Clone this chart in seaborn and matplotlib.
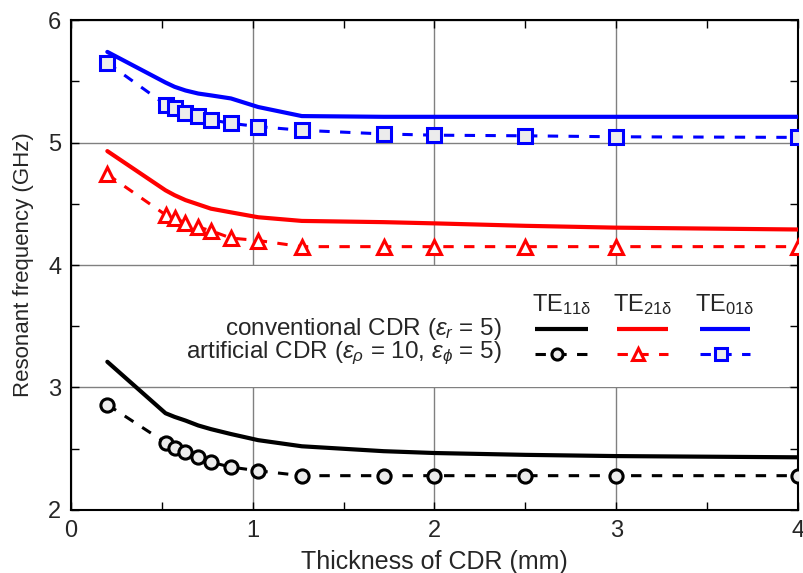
## Resonant frequency of conventional vs artificial CDR

import matplotlib
matplotlib.use("Agg")
import matplotlib.pyplot as plt
from matplotlib.patches import Rectangle
from matplotlib.ticker import MultipleLocator
import seaborn as sns
from pandas import DataFrame

#----------------------------------------------------
# DATA
#----------------------------------------------------

thickness = [0.2, 0.52, 0.57, 0.63, 0.7, 0.77, 0.88, 1.03, 1.27, 1.72, 2.0, 2.5, 3.0, 4.0]

te11_conv = [3.21, 2.79, 2.76, 2.73, 2.69, 2.66, 2.62, 2.57, 2.52, 2.48, 2.465, 2.45, 2.44, 2.43]
te21_conv = [4.93, 4.61, 4.57, 4.53, 4.495, 4.46, 4.43, 4.39, 4.36, 4.35, 4.34, 4.32, 4.305, 4.29]
te01_conv = [5.74, 5.49, 5.455, 5.425, 5.40, 5.385, 5.36, 5.29, 5.216, 5.21, 5.21, 5.21, 5.21, 5.21]

te11_art = [2.86, 2.55, 2.51, 2.47, 2.43, 2.39, 2.35, 2.32, 2.28, 2.28, 2.28, 2.28, 2.28, 2.28]
te21_art = [4.74, 4.41, 4.38, 4.345, 4.31, 4.28, 4.22, 4.20, 4.15, 4.15, 4.15, 4.15, 4.15, 4.15]
te01_art = [5.65, 5.31, 5.28, 5.245, 5.215, 5.185, 5.157, 5.13, 5.10, 5.07, 5.06, 5.055, 5.047, 5.042]

mode_labels = [r"TE$_{\mathrm{11δ}}$", r"TE$_{\mathrm{21δ}}$", r"TE$_{\mathrm{01δ}}$"]
mode_colors = ["black", "#ff0000", "#0000ff"]
mode_markers = ["o", "^", "s"]
row_labels = [r"conventional CDR ($\varepsilon_r$ = 5)",
              r"artificial CDR ($\varepsilon_\rho$ = 10, $\varepsilon_\phi$ = 5)"]

#----------------------------------------------------
# STYLE
#----------------------------------------------------

sns.set_style("ticks")
plt.rcParams['font.family'] = ['Liberation Sans', 'DejaVu Sans']
plt.rcParams['mathtext.fontset'] = 'custom'
plt.rcParams['mathtext.rm'] = 'Liberation Sans'
plt.rcParams['mathtext.it'] = 'Liberation Sans:italic'
plt.rcParams['mathtext.bf'] = 'Liberation Sans:bold'

SOLID_LW = 3.0
DASH_LW = 2.2
DASH = (0, (3.4, 3.4))

#----------------------------------------------------
# MAIN
#----------------------------------------------------

def main():
    fig = plt.figure(figsize=(8.04, 5.73), dpi=100)
    ax = fig.add_axes([0.0883, 0.11, 0.9042, 0.855])

    conv = [te11_conv, te21_conv, te01_conv]
    art = [te11_art, te21_art, te01_art]

    for i in range(3):
        df = DataFrame({"x": thickness, "conv": conv[i], "art": art[i]})
        sns.lineplot(data=df, x="x", y="conv", ax=ax, color=mode_colors[i],
                     lw=SOLID_LW, zorder=3)
        face = "white" if mode_markers[i] == "^" else "#ececec"
        sns.lineplot(data=df, x="x", y="art", ax=ax, color=mode_colors[i],
                     lw=DASH_LW, linestyle=DASH, marker=mode_markers[i],
                     markersize=9.5 if mode_markers[i] != "^" else 10.5,
                     markerfacecolor=face, markeredgecolor=mode_colors[i],
                     markeredgewidth=2.2, zorder=3)

    ax.set_xlim(0, 4)
    ax.set_ylim(2, 6)
    ax.xaxis.set_major_locator(MultipleLocator(1))
    ax.yaxis.set_major_locator(MultipleLocator(1))
    ax.xaxis.set_minor_locator(MultipleLocator(0.5))
    ax.yaxis.set_minor_locator(MultipleLocator(0.5))
    ax.tick_params(which="both", direction="in", top=True, right=True,
                   length=6, width=1, color="black")
    ax.tick_params(which="major", labelsize=17, pad=7)
    ax.set_axisbelow(True)
    ax.grid(which="major", color="#808080", lw=1)
    for sp in ax.spines.values():
        sp.set_color("black")
        sp.set_linewidth(1.5)

    ax.set_xlabel("Thickness of CDR (mm)", fontsize=18, labelpad=6)
    ax.set_ylabel("Resonant frequency (GHz)", fontsize=16, labelpad=10)

    #white box behind the legend
    ax.add_patch(Rectangle((0.6, 3.008), 3.35, 0.984, facecolor="white",
                           edgecolor="none", zorder=1))

    #legend made by hand: row labels, column headers, samples
    row_y = [0.369, 0.319]
    for j in range(2):
        ax.text(0.593, row_y[j], row_labels[j], transform=ax.transAxes,
                ha="right", va="center", fontsize=17.5)
    col_x = [(0.638, 0.711), (0.751, 0.821), (0.865, 0.934)]
    for i in range(3):
        x0, x1 = col_x[i]
        ax.text((x0 + x1) / 2, 0.42, mode_labels[i], transform=ax.transAxes,
                ha="center", va="center", fontsize=17)
        ax.plot([x0, x1], [row_y[0], row_y[0]], transform=ax.transAxes,
                color=mode_colors[i], lw=SOLID_LW, solid_capstyle="butt", zorder=4)
        ax.plot([x0, x1], [row_y[1], row_y[1]], transform=ax.transAxes,
                color=mode_colors[i], lw=DASH_LW, linestyle=DASH, zorder=4)
        face = "white" if mode_markers[i] == "^" else "#ececec"
        ax.plot([x0 + 0.42 * (x1 - x0)], [row_y[1]], transform=ax.transAxes,
                color=mode_colors[i], marker=mode_markers[i], linestyle="none",
                markersize=8, markerfacecolor=face, markeredgewidth=2.2, zorder=5)

    fig.savefig("out.png", dpi=100)


if __name__ == '__main__':
    main()
